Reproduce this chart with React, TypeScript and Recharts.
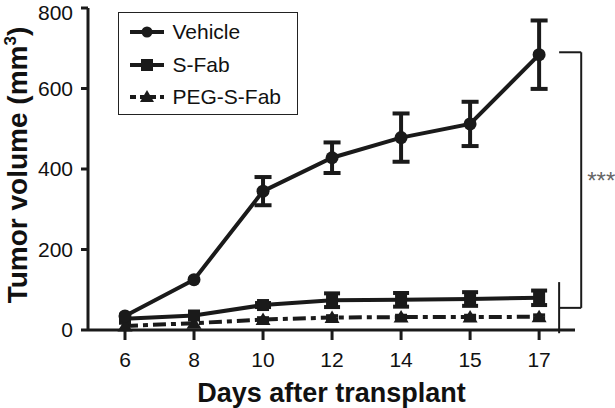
import React from 'react';
import {
  LineChart, Line, XAxis, YAxis, ErrorBar, Legend, ReferenceLine,
} from 'recharts';

// days on the x axis (equally spaced categories)
const days = ['6', '8', '10', '12', '14', '15', '17'];

const vehicle = [35, 125, 345, 428, 478, 512, 684];
const vehicleErr = [null, null, 35, 38, 60, 55, 85];
const sFab = [28, 36, 62, 74, 75, 77, 80];
const sFabErr = [null, null, 5, 17, 17, 17, 18];
const pegSFab = [10, 17, 26, 31, 32, 32, 33];
const pegSFabErr = [null, null, 4, 4, 4, 4, 4];

const yTicks = [0, 200, 400, 600, 800];
const seriesNames = ['Vehicle', 'S-Fab', 'PEG-S-Fab'];

const FONT = '"Liberation Sans", Arial, Helvetica, sans-serif';
const INK = '#1a1a1a';

const data = days.map((d, i) => ({
  idx: i,
  day: d,
  vehicle: vehicle[i],
  vehicleErr: vehicleErr[i],
  sFab: sFab[i],
  sFabErr: sFabErr[i],
  peg: pegSFab[i],
  pegErr: pegSFabErr[i],
}));

function CircleDot(props: any) {
  const { cx, cy } = props;
  if (cx == null || cy == null) return null;
  return <circle cx={cx} cy={cy} r={6.5} fill={INK} />;
}

function SquareDot(props: any) {
  const { cx, cy } = props;
  if (cx == null || cy == null) return null;
  return <rect x={cx - 6} y={cy - 6} width={12} height={12} fill={INK} />;
}

function TriangleDot(props: any) {
  const { cx, cy } = props;
  if (cx == null || cy == null) return null;
  return <polygon points={`${cx},${cy - 7} ${cx - 7.5},${cy + 5.5} ${cx + 7.5},${cy + 5.5}`} fill={INK} />;
}

function LegendSymbol({ kind }: { kind: number }) {
  return (
    <svg width={34} height={16} style={{ display: 'block' }}>
      <line x1={0} y1={8} x2={34} y2={8} stroke={INK} strokeWidth={4}
        strokeDasharray={kind === 2 ? '6 4' : undefined} />
      {kind === 0 && <circle cx={17} cy={8} r={5.5} fill={INK} />}
      {kind === 1 && <rect x={11} y={2} width={12} height={12} fill={INK} />}
      {kind === 2 && <polygon points="17,1 10,13 24,13" fill={INK} />}
    </svg>
  );
}

function LegendBox() {
  return (
    <div style={{
      width: 180, height: 103, boxSizing: 'border-box', border: '1.5px solid #222',
      background: '#fff', paddingTop: 3, paddingLeft: 10.5, fontFamily: FONT, fontSize: 21, color: '#111',
    }}>
      {seriesNames.map((name, i) => (
        <div key={name} style={{ height: 32.5, display: 'flex', alignItems: 'center' }}>
          <LegendSymbol kind={i} />
          <span style={{ marginLeft: 9 }}>{name}</span>
        </div>
      ))}
    </div>
  );
}

function YTitle(props: any) {
  const vb = props.viewBox || { x: 0, y: 0, width: 0, height: 0 };
  const x = 27;
  const y = vb.y + vb.height / 2 - 4;
  return (
    <text x={x} y={y} transform={`rotate(-90, ${x}, ${y})`} textAnchor="middle"
      fontFamily={FONT} fontSize={28} fontWeight="bold" fill="#111">
      Tumor volume (mm<tspan fontSize={17} dy={-11}>3</tspan><tspan dy={11}>)</tspan>
    </text>
  );
}

export default function App() {
  return (
    <div style={{ position: 'absolute', left: 0, top: 0, width: 615, height: 408, background: '#fff' }}>
      <LineChart width={615} height={408} data={data}
        margin={{ top: 8, right: 40, left: 0, bottom: 0 }}>
        <XAxis
          dataKey="idx" type="number" domain={[-0.536, 6.52]} allowDataOverflow
          ticks={[0, 1, 2, 3, 4, 5, 6]} tickFormatter={(v) => days[v]}
          height={78} stroke={INK} strokeWidth={3} tickSize={10} tickMargin={12}
          tick={{ fontFamily: FONT, fontSize: 21, fill: '#111' }}
          label={{ value: 'Days after transplant', position: 'insideBottom', offset: 6,
            style: { fontFamily: FONT, fontSize: 27, fontWeight: 'bold', fill: '#111' } }}
        />
        <YAxis
          domain={[0, 800]} ticks={yTicks} width={88} stroke={INK} strokeWidth={3}
          tickSize={7} tickMargin={8}
          tick={{ fontFamily: FONT, fontSize: 21, fill: '#111' }}
          label={<YTitle />}
        />
        <Legend layout="vertical" align="center" verticalAlign="middle"
          wrapperStyle={{ left: 118, top: 12, width: 180, height: 103 }}
          content={<LegendBox />} />
        <Line dataKey="peg" name="PEG-S-Fab" stroke={INK} strokeWidth={4}
          strokeDasharray="13 5 5 5" dot={<TriangleDot />} activeDot={false} isAnimationActive={false}>
          <ErrorBar dataKey="pegErr" width={6} strokeWidth={3.5} stroke={INK} direction="y" isAnimationActive={false} />
        </Line>
        <Line dataKey="sFab" name="S-Fab" stroke={INK} strokeWidth={4}
          dot={<SquareDot />} activeDot={false} isAnimationActive={false}>
          <ErrorBar dataKey="sFabErr" width={8} strokeWidth={4} stroke={INK} direction="y" isAnimationActive={false} />
        </Line>
        <Line dataKey="vehicle" name="Vehicle" stroke={INK} strokeWidth={4}
          dot={<CircleDot />} activeDot={false} isAnimationActive={false}>
          <ErrorBar dataKey="vehicleErr" width={8.5} strokeWidth={4} stroke={INK} direction="y" isAnimationActive={false} />
        </Line>
        {/* significance bracket */}
        <ReferenceLine ifOverflow="visible" stroke={INK} strokeWidth={2}
          segment={[{ x: 6.29, y: 690 }, { x: 6.61, y: 690 }]} />
        <ReferenceLine ifOverflow="visible" stroke={INK} strokeWidth={2}
          segment={[{ x: 6.61, y: 690 }, { x: 6.61, y: 55 }]}
          label={{ value: '***', position: 'right', offset: 6,
            style: { fontFamily: FONT, fontSize: 24, fill: '#666' } }} />
        <ReferenceLine ifOverflow="visible" stroke={INK} strokeWidth={2}
          segment={[{ x: 6.29, y: 55 }, { x: 6.61, y: 55 }]} />
        <ReferenceLine ifOverflow="visible" stroke={INK} strokeWidth={2}
          segment={[{ x: 6.29, y: 119 }, { x: 6.29, y: -8 }]} />
      </LineChart>
    </div>
  );
}
